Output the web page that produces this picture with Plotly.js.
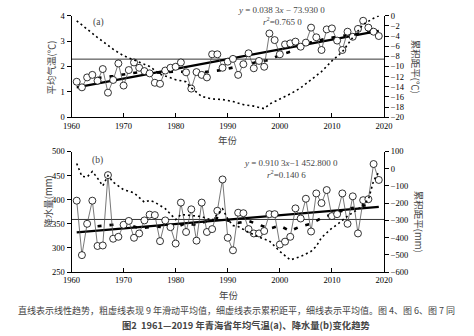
<!DOCTYPE html>
<html>
<head>
<meta charset="utf-8">
<script src="https://cdn.plot.ly/plotly-3.0.1.min.js"></script>
<style>html,body{margin:0;padding:0;background:#fff;}#chart{width:474px;height:336px;}</style>
</head>
<body>
<div id="chart"></div>
<script>
// ---------- data ----------
var years = [1961,1962,1963,1964,1965,1966,1967,1968,1969,1970,1971,1972,1973,1974,1975,1976,1977,1978,1979,1980,
  1981,1982,1983,1984,1985,1986,1987,1988,1989,1990,1991,1992,1993,1994,1995,1996,1997,1998,1999,2000,
  2001,2002,2003,2004,2005,2006,2007,2008,2009,2010,2011,2012,2013,2014,2015,2016,2017,2018,2019];

var tempA = [1.40,1.18,1.57,1.67,1.44,1.90,0.97,1.47,2.12,1.25,1.86,2.16,1.95,1.82,1.73,1.36,1.32,1.84,1.95,1.99,
  2.16,1.77,1.13,1.78,1.67,1.57,2.48,2.48,1.95,2.19,2.30,1.67,2.09,2.52,1.93,2.22,1.99,3.30,3.04,2.48,
  2.87,2.91,2.98,2.78,2.94,3.53,3.15,2.65,3.46,3.50,3.02,2.65,3.37,3.17,3.48,3.80,3.53,3.37,3.20];

var precipB = [398,285,350,398,304,305,451,319,323,348,356,321,330,357,369,368,314,357,343,309,
  394,333,380,315,394,333,339,377,442,321,295,373,372,339,330,330,335,370,370,307,
  313,323,382,361,402,334,413,393,420,366,370,413,350,407,330,399,401,474,441];

var trendYears = [1961, 2019];
var trendA = [1.18, 3.40];
var trendB = [332.3, 385.1];

var meanYears = [1960, 2020];
var meanA = [2.29, 2.29];
var meanB = [359, 359];

var maYearsA = [1965,1968,1971,1974,1977,1980,1983,1985,1987,1989,1991,1993,1995,1998,2000,2002,2004,2006,2009,2011,2013,2015,2018];
var maA = [1.55,1.62,1.72,1.80,1.76,1.80,1.78,1.76,1.82,1.86,1.96,2.10,2.15,2.26,2.45,2.58,2.80,2.95,3.10,3.18,3.24,3.28,3.37];

var maYearsB = [1965,1967,1969,1971,1973,1976,1980,1982,1984,1986,1988,1990,1992,1994,1996,1998,2000,2002,2004,2006,2008,2011,2013,2015,2017];
var maB = [345,347,349,348,341,344,342,352,347,356,362,357,352,356,348,340,346,335,345,350,362,374,381,385,390];

var cumYearsA = [1961,1963,1965,1968,1970,1972,1975,1977,1980,1982,1983,1985,1987,1989,1991,1993,1995,1997,1998,2000,2002,2004,2006,2008,2010,2012,2014,2016,2018,2019];
var cumA = [-1.0,-2.7,-4.3,-6.6,-7.9,-8.7,-10.0,-11.5,-12.6,-13.0,-14.2,-15.9,-16.4,-16.5,-16.9,-17.5,-17.8,-18.3,-17.4,-16.4,-15.4,-14.2,-12.6,-11.0,-8.9,-7.1,-4.3,-1.7,-0.5,0];

var cumYearsB = [1961,1962,1963,1964,1965,1966,1967,1968,1970,1972,1974,1975,1976,1978,1980,1981,1983,1985,1987,1989,1990,1991,1992,1994,1996,1998,2000,2002,2003,2004,2006,2007,2008,2010,2011,2013,2015,2016,2017,2018,2019];
var cumB = [30,-45,-48,-16,-55,-100,-40,-78,-122,-140,-195,-184,-195,-232,-295,-266,-272,-278,-300,-233,-291,-330,-336,-369,-397,-420,-480,-530,-520,-510,-480,-450,-400,-345,-325,-275,-235,-210,-180,-70,-20];

var xTicks = [1960,1970,1980,1990,2000,2010,2020];

// ---------- styling ----------
var serif = 'Liberation Serif, Times New Roman, serif';
var cjk = 'Noto Sans CJK SC, sans-serif';
var tickFont = {family: serif, size: 8.5, color: '#000'};

function obsTrace(y, xa, ya) {
  return {x: years, y: y, xaxis: xa, yaxis: ya, type: 'scatter', mode: 'lines+markers',
    line: {color: '#555', width: 0.8},
    marker: {symbol: 'circle', size: 7, color: '#fff', line: {color: '#000', width: 0.8}},
    hoverinfo: 'skip'};
}
function lineTrace(x, y, xa, ya, w, dash, col) {
  return {x: x, y: y, xaxis: xa, yaxis: ya, type: 'scatter', mode: 'lines',
    line: {color: col || '#000', width: w, dash: dash || 'solid'}, hoverinfo: 'skip'};
}

var data = [
  lineTrace(meanYears, meanA, 'x', 'y', 0.8),
  lineTrace(cumYearsA, cumA, 'x', 'y2', 1.6, '2px,3px'),
  lineTrace(maYearsA, maA, 'x', 'y', 2.6, '4px,8px'),
  lineTrace(trendYears, trendA, 'x', 'y', 2.2),
  obsTrace(tempA, 'x', 'y'),

  lineTrace(meanYears, meanB, 'x2', 'y3', 0.8),
  lineTrace(cumYearsB, cumB, 'x2', 'y4', 1.6, '2px,3px'),
  lineTrace(maYearsB, maB, 'x2', 'y3', 2.6, '4px,8px'),
  lineTrace(trendYears, trendB, 'x2', 'y3', 2.2),
  obsTrace(precipB, 'x2', 'y3')
];

var xDom = [71.5/474, 384/474];
var axBase = {showgrid: false, zeroline: false, showline: true, linecolor: '#000', linewidth: 1,
  ticks: 'outside', ticklen: 4, tickwidth: 1, tickcolor: '#000', tickfont: tickFont, mirror: false};

function ax(extra) { return Object.assign({}, axBase, extra); }

var layout = {
  width: 474, height: 336,
  margin: {l: 0, r: 0, t: 0, b: 0},
  paper_bgcolor: '#fff', plot_bgcolor: 'rgba(0,0,0,0)',
  showlegend: false,
  xaxis: ax({domain: xDom, anchor: 'y', range: [1960, 2020], tickvals: xTicks, ticks: 'inside'}),
  yaxis: ax({domain: [1-117.3/336, 1-15.7/336], anchor: 'x', range: [0, 4], dtick: 1}),
  yaxis2: ax({overlaying: 'y', side: 'right', anchor: 'x', range: [-20, 0], dtick: 2}),
  xaxis2: ax({domain: xDom, anchor: 'y3', range: [1960, 2020], tickvals: xTicks, ticks: 'inside'}),
  yaxis3: ax({domain: [1-272/336, 1-151.5/336], anchor: 'x2', range: [250, 500], dtick: 50}),
  yaxis4: ax({overlaying: 'y3', side: 'right', anchor: 'x2', range: [-600, 100], dtick: 100}),
  annotations: [
    {text: '平均气温(℃)', x: 50/474, y: 1-67.5/336, textangle: -90, font: {family: cjk, size: 9.5}},
    {text: '累积距平(℃)', x: 416/474, y: 1-66.7/336, textangle: 90, font: {family: cjk, size: 9.5}},
    {text: '降水量(mm)', x: 48/474, y: 1-201.7/336, textangle: -90, font: {family: cjk, size: 9.5}},
    {text: '累积距平(mm)', x: 419/474, y: 1-221.7/336, textangle: 90, font: {family: cjk, size: 9.5}},
    {text: '年份', x: 228/474, y: 1-140/336, font: {family: cjk, size: 9.5}},
    {text: '年份', x: 229/474, y: 1-295/336, font: {family: cjk, size: 9.5}},
    {text: '(a)', x: 98/474, y: 1-23/336, font: {family: serif, size: 9.5}},
    {text: '(b)', x: 97/474, y: 1-160.7/336, font: {family: serif, size: 9.5}},
    {text: '<i>y</i> = 0.038 3<i>x</i> − 73.930 0', x: 281.5/474, y: 1-10/336, font: {family: serif, size: 9}},
    {text: '<i>r</i><sup>2</sup>=0.765 0', x: 282/474, y: 1-20.5/336, font: {family: serif, size: 9}},
    {text: '<i>y</i> = 0.910 3<i>x</i>−1 452.800 0', x: 290.5/474, y: 1-163.3/336, font: {family: serif, size: 9}},
    {text: '<i>r</i><sup>2</sup>=0.140 6', x: 286/474, y: 1-174.3/336, font: {family: serif, size: 9}},
    {text: '直线表示线性趋势，粗虚线表现 9 年滑动平均值，细虚线表示累积距平，细线表示平均值。图 4、图 6、图 7 同',
      x: 236.5/474, y: 1-310/336, font: {family: cjk, size: 9}},
    {text: '<b>图2  1961—2019 年青海省年均气温(a)、降水量(b)变化趋势</b>',
      x: 246/474, y: 1-324.5/336, font: {family: cjk, size: 9.3}}
  ].map(function (a) {
    return Object.assign({xref: 'paper', yref: 'paper', showarrow: false, xanchor: 'center', yanchor: 'middle'}, a);
  })
};

Plotly.newPlot('chart', data, layout, {staticPlot: true, displayModeBar: false});
</script>
</body>
</html>
